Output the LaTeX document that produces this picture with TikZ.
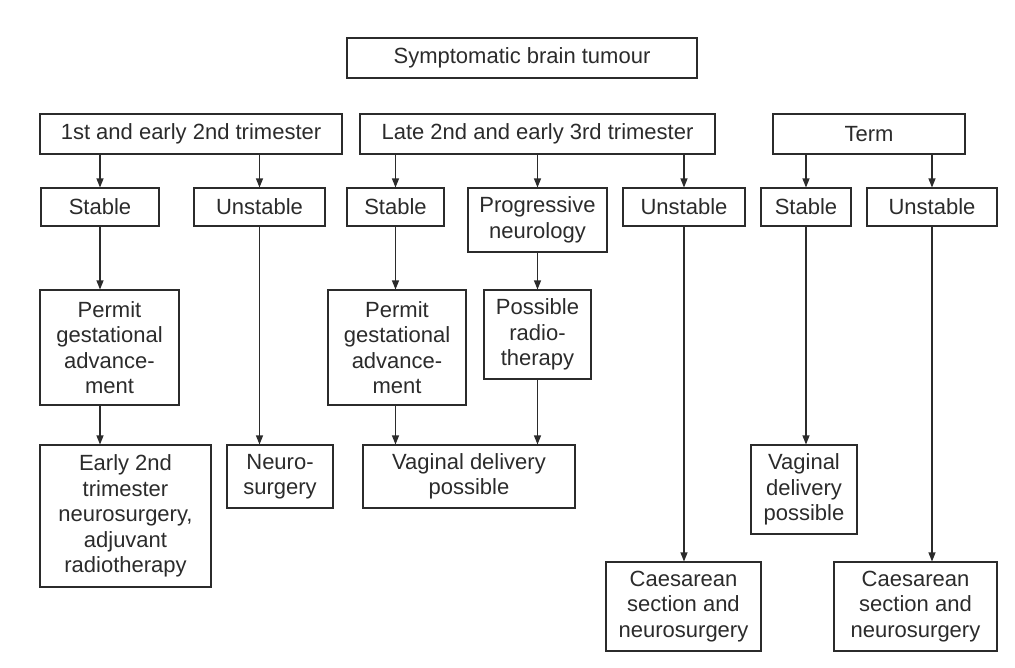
\documentclass[tikz,border=0pt]{standalone}
\usepackage{fontspec}
\setmainfont{Liberation Sans}
\usetikzlibrary{arrows.meta}
\definecolor{ink}{HTML}{2B2B2B}
\tikzset{
  box/.style={draw=ink, line width=1.1pt, align=center, inner sep=0pt, text=ink,
    font=\fontsize{22}{25.5}\selectfont},
  arr/.style={draw=ink, line width=1.1pt, -{Triangle[length=9pt,width=7pt]}}
}
\begin{document}
\begin{tikzpicture}[x=1pt, y=-1pt]
        \useasboundingbox (0,0) rectangle (1015,667);
        % top and trimester rows
        \node [box, minimum width=350, minimum height=40] (top) at (522,58) {Symptomatic brain tumour};
        \node [box, minimum width=302, minimum height=40] (t1) at (191,134) {1st and early 2nd trimester};
        \node [box, minimum width=355, minimum height=40] (t2) at (537.5,134) {Late 2nd and early 3rd trimester};
        \node [box, minimum width=192, minimum height=40] (term) at (869,134) {Term};
        % condition row
        \node [box, minimum width=118, minimum height=38] (s1) at (100,207) {Stable};
        \node [box, minimum width=131, minimum height=38] (u1) at (259.5,207) {Unstable};
        \node [box, minimum width=97, minimum height=38] (s2) at (395.5,207) {Stable};
        \node [box, minimum width=139, minimum height=64] (prog) at (537.5,220) {Progressive\\neurology};
        \node [box, minimum width=122, minimum height=38] (u2) at (684,207) {Unstable};
        \node [box, minimum width=90, minimum height=38] (s3) at (806,207) {Stable};
        \node [box, minimum width=130, minimum height=38] (u3) at (932,207) {Unstable};
        % management
        \node [box, minimum width=139, minimum height=115] (permit1) at (109.5,347.5) {Permit\\gestational\\advance-\\ment};
        \node [box, minimum width=138, minimum height=115] (permit2) at (397,347.5) {Permit\\gestational\\advance-\\ment};
        \node [box, minimum width=107, minimum height=89] (radio) at (537.5,334.5) {Possible\\radio-\\therapy};
        \node [box, minimum width=171, minimum height=142] (early) at (125.5,516) {Early 2nd\\trimester\\neurosurgery,\\adjuvant\\radiotherapy};
        \node [box, minimum width=106, minimum height=63] (neuro) at (280,476.5) {Neuro-\\surgery};
        \node [box, minimum width=212, minimum height=63] (vag1) at (469,476.5) {Vaginal delivery\\possible};
        \node [box, minimum width=106, minimum height=89] (vag2) at (804,489.5) {Vaginal\\delivery\\possible};
        \node [box, minimum width=155, minimum height=89] (caes1) at (683.5,606.5) {Caesarean\\section and\\neurosurgery};
        \node [box, minimum width=163, minimum height=89] (caes2) at (915.5,606.5) {Caesarean\\section and\\neurosurgery};
        % arrows
        \draw [arr] (s1 |- t1.south) -- (s1.north);
        \draw [arr] (u1 |- t1.south) -- (u1.north);
        \draw [arr] (s2 |- t2.south) -- (s2.north);
        \draw [arr] (prog |- t2.south) -- (prog.north);
        \draw [arr] (u2 |- t2.south) -- (u2.north);
        \draw [arr] (s3 |- term.south) -- (s3.north);
        \draw [arr] (u3 |- term.south) -- (u3.north);
        \draw [arr] (s1.south) -- (s1 |- permit1.north);
        \draw [arr] (s1 |- permit1.south) -- (s1 |- early.north);
        \draw [arr] (u1.south) -- (u1 |- neuro.north);
        \draw [arr] (s2.south) -- (s2 |- permit2.north);
        \draw [arr] (s2 |- permit2.south) -- (s2 |- vag1.north);
        \draw [arr] (prog.south) -- (radio.north);
        \draw [arr] (prog |- radio.south) -- (prog |- vag1.north);
        \draw [arr] (u2.south) -- (u2 |- caes1.north);
        \draw [arr] (s3.south) -- (s3 |- vag2.north);
        \draw [arr] (u3.south) -- (u3 |- caes2.north);
    \end{tikzpicture}
\end{document}
